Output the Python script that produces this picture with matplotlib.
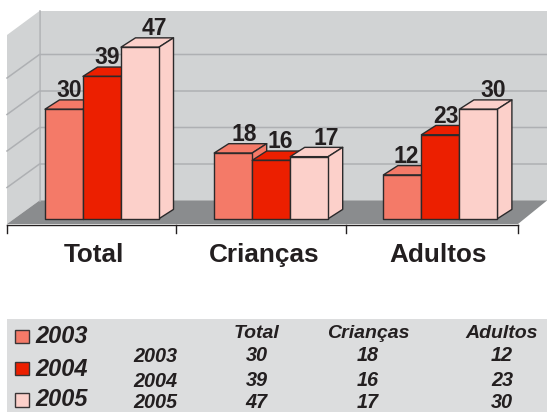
import matplotlib
matplotlib.use('Agg')
import matplotlib.pyplot as plt
from matplotlib.patches import Polygon, Rectangle

categories = ['Total', 'Crianças', 'Adultos']
years = ['2003', '2004', '2005']
values_2003 = [30, 18, 12]
values_2004 = [39, 16, 23]
values_2005 = [47, 17, 30]
series = [values_2003, values_2004, values_2005]
colors = ['#f47a68', '#ec1f00', '#fcd0ca']

# label shifts from the bar centre, pixels (the original is hand placed)
label_dx = [[5, 5, 14], [11, 9, 17], [4, 6, 15]]

W, H = 547, 412
BASE = 218.7      # pixel row of value 0 on the front of the bars
PX_PER_UNIT = 3.65
GROUP_STEP = 169.2
FIRST_GROUP = 102
BAR_W = 38 / GROUP_STEP
DX = 14.5 / GROUP_STEP
DY = 9.3 / PX_PER_UNIT
INK = '#231f20'

plt.rcParams['font.family'] = ['Liberation Sans', 'DejaVu Sans']

fig = plt.figure(figsize=(W / 100, H / 100), dpi=100)

# background, in pixels
bg = fig.add_axes([0, 0, 1, 1])
bg.set_xlim(0, W)
bg.set_ylim(H, 0)
bg.axis('off')

bg.add_patch(Polygon([(39.5, 11), (547, 11), (547, 200.5), (39.5, 200.5)], fc='#d1d3d4', ec='none'))
bg.add_patch(Polygon([(7, 35), (39.5, 11), (39.5, 200.5), (7, 224)], fc='#d1d3d4', ec='none'))
bg.add_patch(Polygon([(7, 224), (39.5, 200.5), (547, 200.5), (518, 224)], fc='#8a8c8e', ec='none'))
bg.plot([39.5, 39.5], [11, 200.5], color='#aeb0b3', lw=1.1)
for g in [10, 20, 30, 40]:
    row = 200.5 - g * PX_PER_UNIT
    bg.plot([7, 39.5, 547], [row + 23.5, row, row], color='#aeb0b3', lw=1.1)

bg.plot([7, 518], [224.7, 224.7], color=INK, lw=1)
for tx in [7, 176.3, 345.7, 518]:
    bg.plot([tx, tx], [224.7, 233], color=INK, lw=1)

for name, cx in zip(categories, [94, 264, 438]):
    bg.text(cx, 262.3, name, ha='center', va='baseline', fontsize=18.8,
            fontweight='bold', color=INK)

# table band under the chart
bg.add_patch(Rectangle((7, 319), 540, 93, fc='#dcddde', ec='none'))
legend_rows = [(336.7, 343.3), (368.7, 375.7), (400, 406.5)]
for year, color, (mid, base) in zip(years, colors, legend_rows):
    bg.add_patch(Rectangle((15, mid - 6.6), 13.5, 13.2, fc=color, ec='#3a3536', lw=1))
    bg.text(35, base, year, ha='left', va='baseline', fontsize=16.9,
            fontweight='bold', fontstyle='italic', color=INK)

col_x = [256.5, 368, 502]
row_y = [361, 386, 407.5]
year_y = [362.2, 387.2, 407.5]
for name, cx in zip(categories, col_x):
    bg.text(cx, 337.7, name, ha='center', va='baseline', fontsize=14,
            fontweight='bold', fontstyle='italic', color=INK)
for year, vals, ry, yy in zip(years, series, row_y, year_y):
    bg.text(155, yy, year, ha='center', va='baseline', fontsize=14.3,
            fontweight='bold', fontstyle='italic', color=INK)
    for v, cx in zip(vals, col_x):
        bg.text(cx, ry, str(v), ha='center', va='baseline', fontsize=14.3,
                fontweight='bold', fontstyle='italic', color=INK)

# bars, in category and value units
ax = fig.add_axes([0, 0, 1, 1])
ax.patch.set_alpha(0)
ax.axis('off')
ax.set_xlim(-FIRST_GROUP / GROUP_STEP, (W - FIRST_GROUP) / GROUP_STEP)
ax.set_ylim((BASE - H) / PX_PER_UNIT, BASE / PX_PER_UNIT)

for g in range(len(categories)):
    for s, vals in enumerate(series):
        v = vals[g]
        left = g + (s - 1.5) * BAR_W
        right = left + BAR_W
        top = [(left, v), (right, v), (right + DX, v + DY), (left + DX, v + DY)]
        side = [(right, 0), (right + DX, DY), (right + DX, v + DY), (right, v)]
        front = [(left, 0), (right, 0), (right, v), (left, v)]
        for pts in (top, side, front):
            ax.add_patch(Polygon(pts, fc=colors[s], ec='#2b2a2b', lw=1, joinstyle='round'))
        ax.text(left + BAR_W / 2 + label_dx[g][s] / GROUP_STEP, v + 12 / PX_PER_UNIT, str(v),
                ha='center', va='baseline', fontsize=16.5, fontweight='bold', color=INK)

fig.savefig('out.png', dpi=100)
